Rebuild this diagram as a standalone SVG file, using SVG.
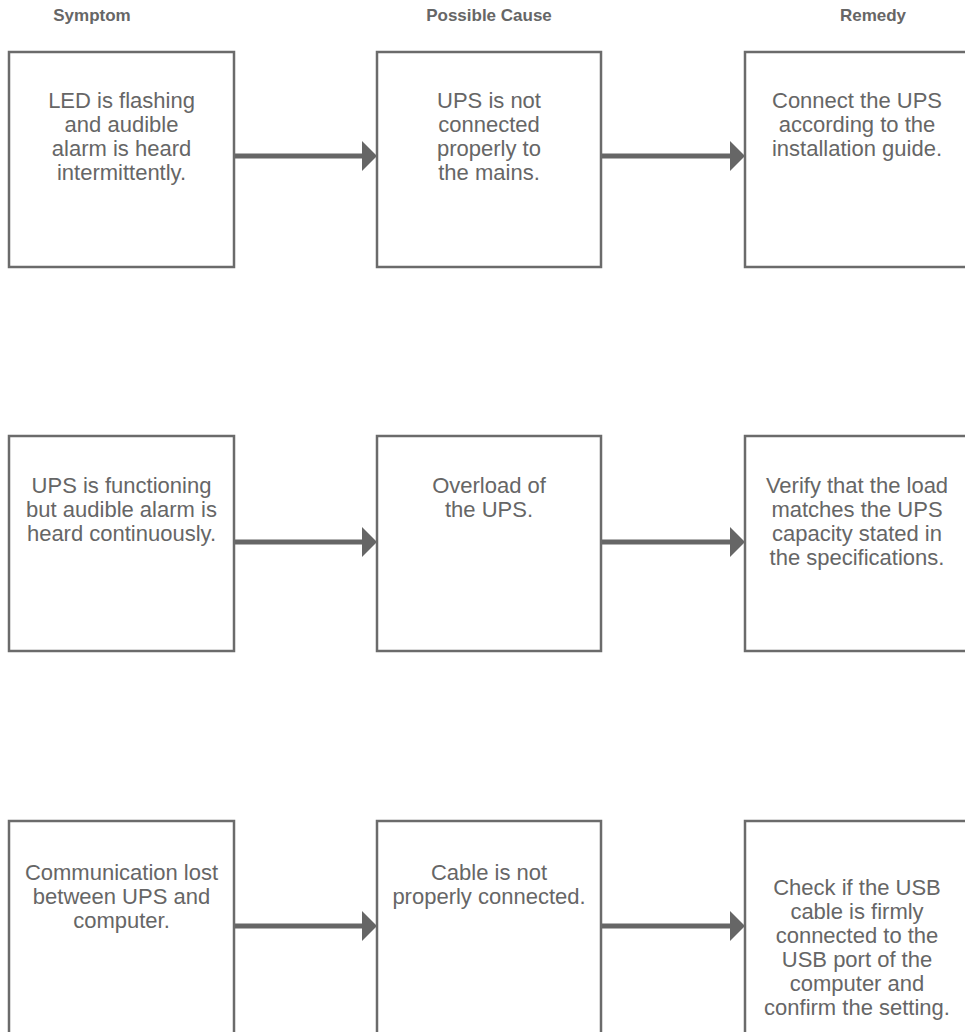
<svg xmlns="http://www.w3.org/2000/svg" width="965" height="1032" viewBox="0 0 965 1032">
<style>
.box{fill:#fff;stroke:#6b6b6b;stroke-width:2.5}
.t{font-family:"Liberation Sans",Arial,sans-serif;font-size:22px;fill:#666;text-anchor:middle}
.h{font-family:"Liberation Sans",Arial,sans-serif;font-size:17px;font-weight:bold;fill:#666;text-anchor:middle}
.ln{stroke:#666;stroke-width:5;fill:none}
.hd{fill:#666}
</style>
<rect width="965" height="1032" fill="#fff"/>
<g id="headers">
<text class="h" x="92" y="21">Symptom</text>
<text class="h" x="489" y="21">Possible Cause</text>
<text class="h" x="873" y="21">Remedy</text>
</g>
<g id="connectors">
<line class="ln" x1="235" y1="156" x2="365" y2="156"/><polygon class="hd" points="362,141 377,156 362,171"/>
<line class="ln" x1="602" y1="156" x2="733" y2="156"/><polygon class="hd" points="730,141 745,156 730,171"/>
<line class="ln" x1="235" y1="542" x2="365" y2="542"/><polygon class="hd" points="362,527 377,542 362,557"/>
<line class="ln" x1="602" y1="542" x2="733" y2="542"/><polygon class="hd" points="730,527 745,542 730,557"/>
<line class="ln" x1="235" y1="926" x2="365" y2="926"/><polygon class="hd" points="362,911 377,926 362,941"/>
<line class="ln" x1="602" y1="926" x2="733" y2="926"/><polygon class="hd" points="730,911 745,926 730,941"/>
</g>
<g id="s1"><rect class="box" x="9" y="52" width="225" height="215"/>
<text class="t" x="121.5" y="108">LED is flashing<tspan x="121.5" dy="24">and audible</tspan><tspan x="121.5" dy="24">alarm is heard</tspan><tspan x="121.5" dy="24">intermittently.</tspan></text></g>
<g id="c1"><rect class="box" x="377" y="52" width="224" height="215"/>
<text class="t" x="489" y="108">UPS is not<tspan x="489" dy="24">connected</tspan><tspan x="489" dy="24">properly to</tspan><tspan x="489" dy="24">the mains.</tspan></text></g>
<g id="r1"><rect class="box" x="745" y="52" width="225" height="215"/>
<text class="t" x="857" y="108">Connect the UPS<tspan x="857" dy="24">according to the</tspan><tspan x="857" dy="24">installation guide.</tspan></text></g>
<g id="s2"><rect class="box" x="9" y="436" width="225" height="215"/>
<text class="t" x="121.5" y="493">UPS is functioning<tspan x="121.5" dy="24">but audible alarm is</tspan><tspan x="121.5" dy="24">heard continuously.</tspan></text></g>
<g id="c2"><rect class="box" x="377" y="436" width="224" height="215"/>
<text class="t" x="489" y="493">Overload of<tspan x="489" dy="24">the UPS.</tspan></text></g>
<g id="r2"><rect class="box" x="745" y="436" width="225" height="215"/>
<text class="t" x="857" y="493">Verify that the load<tspan x="857" dy="24">matches the UPS</tspan><tspan x="857" dy="24">capacity stated in</tspan><tspan x="857" dy="24">the specifications.</tspan></text></g>
<g id="s3"><rect class="box" x="9" y="821" width="225" height="215"/>
<text class="t" x="121.5" y="880">Communication lost<tspan x="121.5" dy="24">between UPS and</tspan><tspan x="121.5" dy="24">computer.</tspan></text></g>
<g id="c3"><rect class="box" x="377" y="821" width="224" height="215"/>
<text class="t" x="489" y="880">Cable is not<tspan x="489" dy="24">properly connected.</tspan></text></g>
<g id="r3"><rect class="box" x="745" y="821" width="225" height="215"/>
<text class="t" x="857" y="895">Check if the USB<tspan x="857" dy="24">cable is firmly</tspan><tspan x="857" dy="24">connected to the</tspan><tspan x="857" dy="24">USB port of the</tspan><tspan x="857" dy="24">computer and</tspan><tspan x="857" dy="24">confirm the setting.</tspan></text></g>
</svg>
